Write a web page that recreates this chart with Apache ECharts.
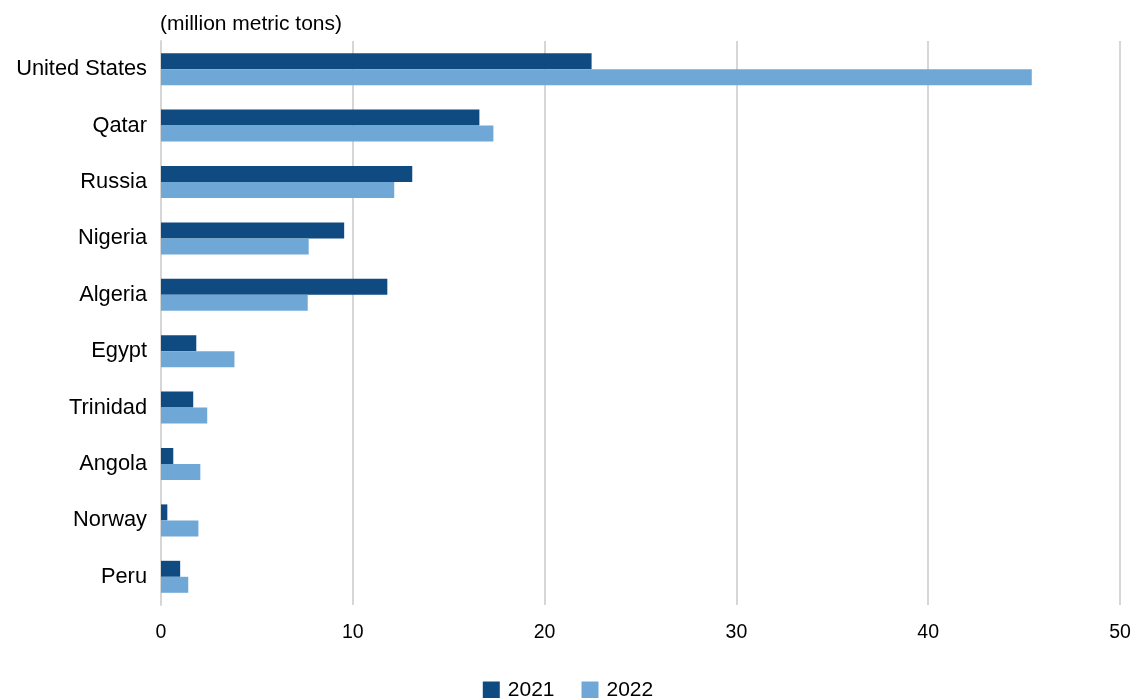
<!DOCTYPE html>
<html><head><meta charset="utf-8">
<style>html,body{margin:0;padding:0;background:#fff}#c{width:1136px;height:698px}</style>
<script src="https://cdn.jsdelivr.net/npm/echarts@6/dist/echarts.min.js"></script>
</head><body><div id="c"></div>
<script>
const categories = ["United States","Qatar","Russia","Nigeria","Algeria","Egypt","Trinidad","Angola","Norway","Peru"];
const values2021 = [22.45, 16.6, 13.1, 9.55, 11.8, 1.84, 1.68, 0.64, 0.33, 1.0];
const values2022 = [45.4, 17.33, 12.16, 7.7, 7.65, 3.83, 2.41, 2.05, 1.95, 1.42];
const seriesNames = ["2021","2022"];
const FONT = "Liberation Sans, Arial, Helvetica, sans-serif";
const chart = echarts.init(document.getElementById('c'));
chart.setOption({
  animation: false,
  textStyle: {fontFamily: FONT},
  title: {text: "(million metric tons)", left: 155, top: 9,
    textStyle: {fontSize: 21, fontWeight: 'normal', color: '#000', fontFamily: FONT}},
  legend: {top: 675, left: 'center', itemWidth: 17, itemHeight: 18, itemGap: 27,
    icon: 'rect', textStyle: {fontSize: 21, color: '#000', fontFamily: FONT, padding: [0,0,0,3]},
    data: seriesNames},
  grid: {left: 161, right: 16, top: 41, bottom: 93, containLabel: false},
  xAxis: {type: 'value', min: 0, max: 50, interval: 10,
    axisLine: {show: false}, axisTick: {show: false},
    splitLine: {lineStyle: {color: '#d6d6d6', width: 2}},
    axisLabel: {fontSize: 19.5, color: '#000', margin: 18, fontFamily: FONT}},
  yAxis: {type: 'category', data: categories, inverse: true,
    axisLine: {show: true, lineStyle: {color: '#d6d6d6', width: 2}},
    axisTick: {show: false},
    axisLabel: {fontSize: 21.8, color: '#000', margin: 14, fontFamily: FONT}},
  series: [
    {name: seriesNames[0], type: 'bar', data: values2021, barWidth: 16, barGap: '0%',
      itemStyle: {color: '#0f4a80'}},
    {name: seriesNames[1], type: 'bar', data: values2022, barWidth: 16, barGap: '0%',
      itemStyle: {color: '#6fa8d6'}}
  ]
});
</script></body></html>
